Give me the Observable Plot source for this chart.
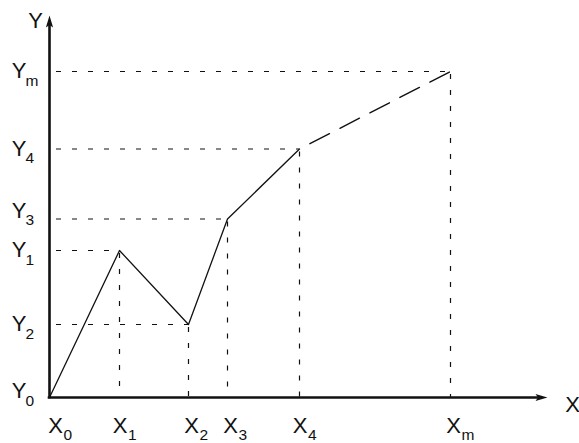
<!DOCTYPE html>
<html><head><meta charset="utf-8">
<script src="https://cdn.jsdelivr.net/npm/d3@7"></script>
<script src="https://cdn.jsdelivr.net/npm/@observablehq/plot@0.6"></script>
<style>html,body{margin:0;padding:0;background:#fff} svg{display:block}</style>
</head><body><div id="chart"></div>
<script>
// ---- data ----
const pointNames = ["0", "1", "2", "3", "4", "m"];
const xValues = [0, 70, 139, 178, 250, 401];
const yValues = [0, 147, 73, 178.5, 248.5, 326];
const xAxisEnd = 498;
const yAxisEnd = 382;

// ---- layout tweaks (label nudges, px) ----
const yLabelNudge = {"0": 6, "3": 8};
const xLabelNudge = {"0": 3, "1": -2.5, "4": -2.5};

const points = pointNames.map((name, i) => ({name, x: xValues[i], y: yValues[i]}));
const solid = points.slice(0, 5);
const dashed = points.slice(4);
const refs = points.slice(1);

const ink = "#111";
const arrowHead = {
  draw(ctx) {
    ctx.moveTo(0, 0);
    ctx.lineTo(-12, -3.6);
    ctx.lineTo(-9.5, 0);
    ctx.lineTo(-12, 3.6);
    ctx.closePath();
  }
};

const chart = Plot.plot({
  width: 579,
  height: 443,
  marginLeft: 49,
  marginRight: 32,
  marginTop: 15,
  marginBottom: 46,
  x: {domain: [0, xAxisEnd], axis: null},
  y: {domain: [0, yAxisEnd], axis: null},
  style: {fontFamily: "'Liberation Sans', Arial, Helvetica, sans-serif", background: "#fff", overflow: "visible"},
  marks: [
    // reference dashed lines
    Plot.ruleY(refs, {y: "y", x1: 0, x2: "x", stroke: ink, strokeWidth: 1.2, strokeDasharray: "5,11", strokeDashoffset: 9}),
    Plot.ruleX(refs, {x: "x", y1: "y", y2: 0, stroke: ink, strokeWidth: 1.2, strokeDasharray: "5,11", strokeDashoffset: 13}),
    // series
    Plot.line(solid, {x: "x", y: "y", stroke: ink, strokeWidth: 1.3}),
    Plot.line(dashed, {x: "x", y: "y", stroke: ink, strokeWidth: 1.4, strokeDasharray: "22,11.7", strokeDashoffset: 22}),
    // axes
    Plot.ruleY([0], {x1: -1.3, x2: xAxisEnd - 9, stroke: ink, strokeWidth: 2.6}),
    Plot.ruleX([0], {y1: -1.3, y2: yAxisEnd - 9, stroke: ink, strokeWidth: 2.6}),
    Plot.dot([{x: xAxisEnd, y: 0}], {x: "x", y: "y", symbol: arrowHead, fill: ink, stroke: null, rotate: 0}),
    Plot.dot([{x: 0, y: yAxisEnd}], {x: "x", y: "y", symbol: arrowHead, fill: ink, stroke: null, rotate: -90}),
    // axis names
    Plot.text(["X"], {x: xAxisEnd, y: 0, text: d => d, textAnchor: "middle", lineAnchor: "bottom", dx: 25, dy: 14, fontSize: 22, fill: ink}),
    Plot.text(["Y"], {x: 0, y: yAxisEnd, text: d => d, textAnchor: "middle", lineAnchor: "bottom", dx: -14, dy: 12, fontSize: 22, fill: ink}),
    // Y tick labels
    Plot.text(points, {x: 0, y: d => d.y + (yLabelNudge[d.name] || 0), text: () => "Y", textAnchor: "end", lineAnchor: "bottom", dx: -23, dy: 6.5, fontSize: 22, fill: ink}),
    Plot.text(points, {x: 0, y: d => d.y + (yLabelNudge[d.name] || 0), text: "name", textAnchor: "start", lineAnchor: "bottom", dx: -24, dy: 14, fontSize: 15.5, fill: ink}),
    // X tick labels
    Plot.text(points, {x: d => d.x + (xLabelNudge[d.name] || 0), y: 0, text: () => "X", textAnchor: "end", lineAnchor: "bottom", dx: 10.5, dy: 35, fontSize: 22, fill: ink}),
    Plot.text(points, {x: d => d.x + (xLabelNudge[d.name] || 0), y: 0, text: "name", textAnchor: "start", lineAnchor: "bottom", dx: 11, dy: 42, fontSize: 15.5, fill: ink})
  ]
});
document.getElementById("chart").appendChild(chart);
</script>
</body></html>
